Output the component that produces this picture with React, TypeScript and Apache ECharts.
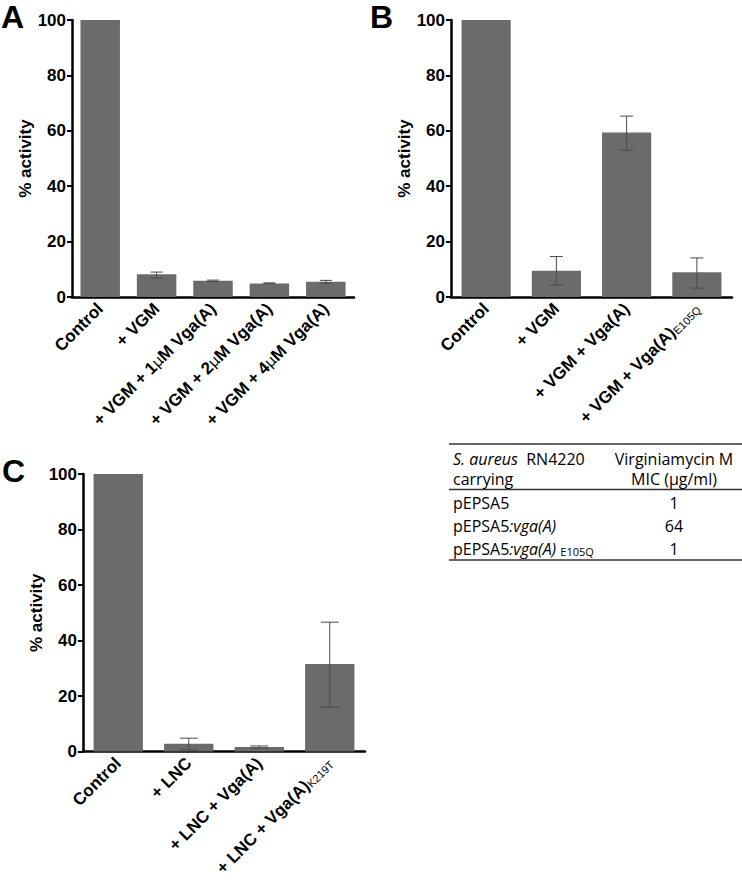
import React, { useEffect, useRef } from 'react';
import * as echarts from 'echarts';

const FONT = '"Liberation Sans", Arial, sans-serif';
const TABLE_FONT = '"Open Sans", sans-serif';

// Panel A
const catsA = ['Control', '+ VGM', '+ VGM + 1μM Vga(A)', '+ VGM + 2μM Vga(A)', '+ VGM + 4μM Vga(A)'];
const subsA = ['', '', '', '', ''];
const valsA = [100, 8.2, 5.9, 4.9, 5.5];
const errA: (number[] | null)[] = [null, [6.8, 9.0], [5.6, 6.1], [4.8, 5.1], [5.0, 6.0]];

// Panel B
const catsB = ['Control', '+ VGM', '+ VGM + Vga(A)', '+ VGM + Vga(A)'];
const subsB = ['', '', '', 'E105Q'];
const valsB = [100, 9.5, 59.4, 8.9];
const errB: (number[] | null)[] = [null, [4.3, 14.6], [53.0, 65.3], [3.2, 14.1]];

// Panel C
const catsC = ['Control', '+ LNC', '+ LNC + Vga(A)', '+ LNC + Vga(A)'];
const subsC = ['', '', '', 'K219T'];
const valsC = [100, 2.8, 1.6, 31.5];
const errC: (number[] | null)[] = [null, [0.6, 4.8], [1.2, 2.0], [16.0, 46.6]];

const yTickLabels = ['0', '20', '40', '60', '80', '100'];

// Table
const tableHead1 = ['S. aureus', '  RN4220'];
const tableHead2 = 'carrying';
const tableHeadRight = ['Virginiamycin M', 'MIC (µg/ml)'];
const tablePlasmid = ['pEPSA5', 'pEPSA5', 'pEPSA5'];
const tableGene = ['', ':vga(A)', ':vga(A)'];
const tableMutation = ['', '', 'E105Q'];
const tableMIC = ['1', '64', '1'];

const BAR_COLOR = '#6b6b6b';

function esc(s: string) {
  return s.replace(/[{}|]/g, '');
}

function labelFormatter(cats: string[], subs: string[]) {
  return (_v: string, idx: number) => {
    const main = esc(cats[idx]);
    const parts = main.split('μ');
    let out = parts.map((p) => `{b|${p}}`).join('{u|μ}');
    if (subs[idx]) out += `{s|${subs[idx]}}`;
    return out;
  };
}

const richLabel = {
  b: { fontFamily: FONT, fontWeight: 'bold', fontSize: 17, color: '#000' },
  u: { fontFamily: '"DejaVu Sans", sans-serif', fontWeight: 'normal', fontSize: 15, color: '#000' },
  s: { fontFamily: FONT, fontWeight: 'normal', fontSize: 11, color: '#000', verticalAlign: 'bottom' },
};

function makeAxes(gridIndex: number, cats: string[], subs: string[]) {
  const x = {
    type: 'category',
    gridIndex,
    data: cats.map((c, i) => c + (subs[i] ? '_' + subs[i] : '') + '#' + i),
    axisLine: { lineStyle: { color: '#000', width: 2.5 } },
    axisTick: { alignWithLabel: true, length: 6, lineStyle: { color: '#000', width: 2 } },
    axisLabel: {
      interval: 0,
      rotate: 45,
      margin: 9,
      formatter: labelFormatter(cats, subs),
      rich: richLabel,
    },
    splitLine: { show: false },
  };
  const y = {
    type: 'value',
    gridIndex,
    min: 0,
    max: 100,
    interval: 20,
    name: '% activity',
    nameLocation: 'middle',
    nameRotate: 90,
    nameGap: 36,
    nameTextStyle: { fontFamily: FONT, fontWeight: 'bold', fontSize: 17, color: '#000' },
    axisLine: { show: true, lineStyle: { color: '#000', width: 2.5 } },
    axisTick: { show: true, length: 5, lineStyle: { color: '#000', width: 2 } },
    axisLabel: {
      margin: 6,
      fontFamily: FONT,
      fontWeight: 'bold',
      fontSize: 17,
      color: '#000',
      formatter: (v: number) => yTickLabels[Math.round(v / 20)],
    },
    splitLine: { show: false },
  };
  return { x, y };
}

function makeSeries(idx: number, vals: number[], errs: (number[] | null)[], capHalf: number) {
  const errData = errs
    .map((e, i) => (e ? [i, e[0], e[1]] : null))
    .filter((d) => d !== null);
  return [
    {
      type: 'bar',
      xAxisIndex: idx,
      yAxisIndex: idx,
      data: vals,
      barWidth: '70%',
      itemStyle: { color: BAR_COLOR },
      silent: true,
    },
    {
      type: 'custom',
      xAxisIndex: idx,
      yAxisIndex: idx,
      data: errData,
      encode: { x: 0, y: [1, 2] },
      z: 5,
      silent: true,
      renderItem: (_p: any, api: any) => {
        const xi = api.value(0);
        const lo = api.coord([xi, api.value(1)]);
        const hi = api.coord([xi, api.value(2)]);
        const st = { stroke: '#4a4a4a', lineWidth: 1 };
        return {
          type: 'group',
          children: [
            { type: 'line', shape: { x1: lo[0], y1: lo[1], x2: hi[0], y2: hi[1] }, style: st },
            { type: 'line', shape: { x1: hi[0] - capHalf, y1: hi[1], x2: hi[0] + capHalf, y2: hi[1] }, style: st },
            { type: 'line', shape: { x1: lo[0] - capHalf, y1: lo[1], x2: lo[0] + capHalf, y2: lo[1] }, style: st },
          ],
        };
      },
    },
  ];
}

function buildTable() {
  const els: any[] = [];
  const lineStyle = { stroke: '#333', lineWidth: 1.5 };
  const x0 = 449;
  const x1 = 742;
  const textX = 453;
  const midX = 674;
  const rich = {
    n: { fontFamily: TABLE_FONT, fontSize: 16, color: '#222' },
    i: { fontFamily: TABLE_FONT, fontSize: 16, fontStyle: 'italic', color: '#222' },
    s: { fontFamily: TABLE_FONT, fontSize: 11, color: '#222', verticalAlign: 'bottom' },
  };
  els.push({ type: 'line', shape: { x1: x0, y1: 444, x2: x1, y2: 444 }, style: lineStyle });
  els.push({ type: 'line', shape: { x1: x0, y1: 489.5, x2: x1, y2: 489.5 }, style: lineStyle });
  els.push({ type: 'line', shape: { x1: x0, y1: 560, x2: x1, y2: 560 }, style: lineStyle });
  els.push({
    type: 'text', x: textX, y: 459,
    style: { text: `{i|${tableHead1[0]}}{n|${tableHead1[1]}}`, rich, textVerticalAlign: 'middle', textAlign: 'left' },
  });
  els.push({
    type: 'text', x: textX, y: 479,
    style: { text: `{n|${tableHead2}}`, rich, textVerticalAlign: 'middle', textAlign: 'left' },
  });
  tableHeadRight.forEach((t, k) => {
    els.push({
      type: 'text', x: midX, y: 459 + k * 20,
      style: { text: `{n|${t}}`, rich, textVerticalAlign: 'middle', textAlign: 'center' },
    });
  });
  const rowY = [503, 526, 549];
  tablePlasmid.forEach((p, k) => {
    let t = `{n|${p}}`;
    if (tableGene[k]) t += `{i|${tableGene[k]}}`;
    if (tableMutation[k]) t += `{n| }{s|${tableMutation[k]}}`;
    els.push({ type: 'text', x: textX, y: rowY[k], style: { text: t, rich, textVerticalAlign: 'middle', textAlign: 'left' } });
    els.push({
      type: 'text', x: midX, y: rowY[k],
      style: { text: `{n|${tableMIC[k]}}`, rich, textVerticalAlign: 'middle', textAlign: 'center' },
    });
  });
  return els;
}

export default function App() {
  const ref = useRef<HTMLDivElement>(null);
  useEffect(() => {
    if (!ref.current) return;
    const chart = echarts.init(ref.current, undefined, { renderer: 'svg' });
    const a = makeAxes(0, catsA, subsA);
    const b = makeAxes(1, catsB, subsB);
    const c = makeAxes(2, catsC, subsC);
    const letterStyle = { fontFamily: FONT, fontWeight: 'bold', fontSize: 32, fill: '#000', textVerticalAlign: 'top' };
    chart.setOption({
      animation: false,
      backgroundColor: '#fff',
      grid: [
        { left: 72, top: 20, width: 282, height: 277 },
        { left: 451, top: 20, width: 281, height: 277 },
        { left: 83, top: 474, width: 282, height: 277.5 },
      ],
      xAxis: [a.x, b.x, c.x],
      yAxis: [a.y, b.y, c.y],
      series: [
        ...makeSeries(0, valsA, errA, 6),
        ...makeSeries(1, valsB, errB, 6.5),
        ...makeSeries(2, valsC, errC, 9),
      ],
      graphic: [
        { type: 'text', x: 1, y: 1, style: { ...letterStyle, text: 'A' } },
        { type: 'text', x: 370, y: 1, style: { ...letterStyle, text: 'B' } },
        { type: 'text', x: 2, y: 455, style: { ...letterStyle, text: 'C' } },
        ...buildTable(),
      ],
    });
    return () => chart.dispose();
  }, []);
  return <div ref={ref} style={{ position: 'absolute', left: 0, top: 0, width: 742, height: 883 }} />;
}
